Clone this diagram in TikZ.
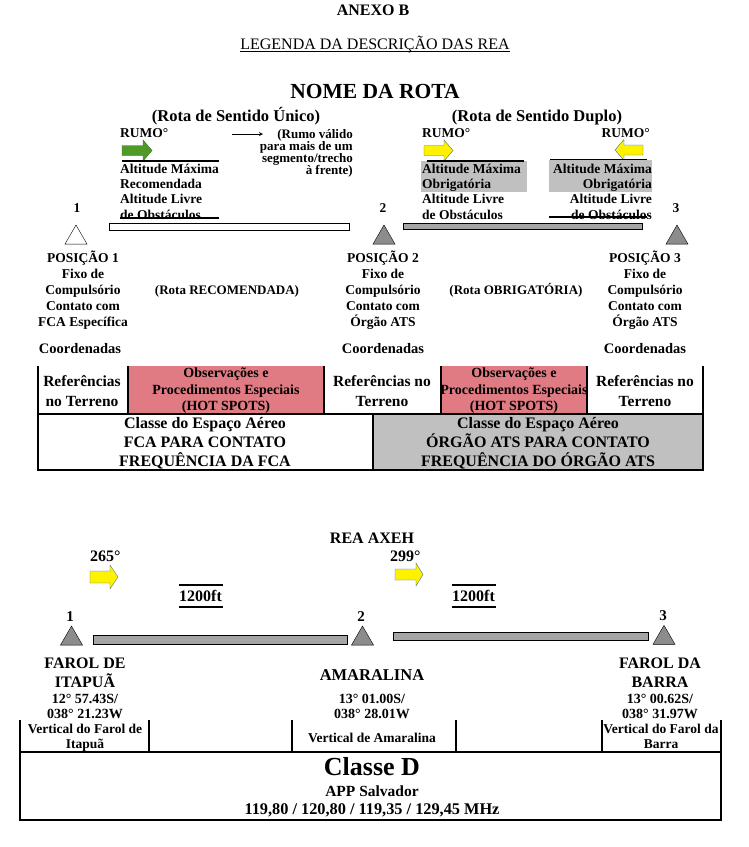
\documentclass[tikz,border=0pt]{standalone}
\usepackage{fontspec}
\setmainfont{Liberation Serif}
\usepackage{xcolor}
\usetikzlibrary{shapes.geometric, arrows}

\definecolor{hotspot}{RGB}{224,122,131}
\definecolor{boxgray}{RGB}{192,192,192}
\definecolor{bargray}{RGB}{165,165,165}
\definecolor{trigray}{RGB}{140,140,140}
\definecolor{rumogreen}{RGB}{80,155,40}
\definecolor{rumoedge}{RGB}{70,110,160}

\newcommand{\setfs}[2]{\fontsize{#1}{#2}\selectfont\bfseries\lineskiplimit=-20pt}

\begin{document}
\begin{tikzpicture}[x=1pt, y=-1pt, every node/.style={inner sep=0pt}]
        % Define styles (coordinates are pixels from the top left corner,
        % multi-line nodes sit on the baseline of their last line)
        \tikzstyle{lbl} = [font=\setfs{13.5}{15.3}]
        \tikzstyle{posbox} = [font=\setfs{13.5}{16}, align=center, anchor=base]
        \tikzstyle{coordlbl} = [font=\setfs{14.5}{17}, anchor=base]
        \tikzstyle{refcell} = [font=\setfs{15.5}{20}, align=center]
        \tikzstyle{hotcell} = [font=\setfs{14}{16.5}, align=center]
        \tikzstyle{classecell} = [font=\setfs{16}{19}, align=center]
        \tikzstyle{fixo} = [regular polygon, regular polygon sides=3, minimum size=25.4pt, draw, fill=trigray]
        \tikzstyle{routebar} = [draw, fill=bargray]
        \tikzstyle{thickrule} = [line width=1.5pt]
        \tikzstyle{tabline} = [line width=1.2pt]
        \tikzstyle{arrow} = [thick,->,>=stealth]
        \tikzstyle{yarrow} = [draw=rumoedge, fill=yellow]

        \useasboundingbox (0,0) rectangle (748,847);

        % Titles
        \node (anexo) [font=\setfs{16}{19}, anchor=base] at (373,15) {ANEXO B};
        \node (legenda) [font=\fontsize{16}{19}\selectfont, anchor=base] at (375,49) {LEGENDA DA DESCRIÇÃO DAS REA};
        \draw ([yshift=-2pt]legenda.base west) -- ([yshift=-2pt]legenda.base east);
        \node (nome) [font=\setfs{21.5}{25}, anchor=base] at (375,98) {NOME DA ROTA};
        \node (unico) [font=\setfs{16.5}{19}, anchor=base] at (236,121) {(Rota de Sentido Único)};
        \node (duplo) [font=\setfs{16.5}{19}, anchor=base] at (537,121) {(Rota de Sentido Duplo)};

        % One way route
        \node (rumoa) [lbl, anchor=base west] at (120,137) {RUMO°};
        \draw [draw=rumogreen!70!black, fill=rumogreen] (122,145.5) -- (143,145.5) -- (143,140) -- (152,150.5) -- (143,161) -- (143,155.5) -- (122,155.5) -- cycle;
        \draw [thickrule] (122,161) -- (219,161);
        \node (alta) [lbl, align=left, anchor=base west] at (120,219) {Altitude Máxima\\Recomendada\\Altitude Livre\\de Obstáculos};
        \draw [thickrule] (120,218) -- (219,218);
        \draw [draw, fill=white] (109,223) rectangle (349,230);
        \coordinate (seta1) at (232,134);
        \coordinate (seta2) at (263,134);
        \draw [arrow] (seta1) -- (seta2);
        \node (valido) [font=\setfs{13}{12}, align=right, anchor=base east] at (353,174) {(Rumo válido\\para mais de um\\segmento/trecho\\à frente)};

        % Two way route
        \node (rumob) [lbl, anchor=base west] at (422,137) {RUMO°};
        \draw [yarrow] (424,145.5) -- (444,145.5) -- (444,140) -- (453,150.5) -- (444,161) -- (444,155.5) -- (424,155.5) -- cycle;
        \fill [boxgray] (421,161) rectangle (527,192);
        \draw [thickrule] (427,161) -- (524,161);
        \node (altb) [lbl, align=left, anchor=base west] at (422,219) {Altitude Máxima\\Obrigatória\\Altitude Livre\\de Obstáculos};
        \draw [routebar] (403,223) rectangle (642,229);
        \draw [thickrule] (425,223.5) -- (521,223.5);

        \node (rumoc) [lbl, anchor=base east] at (650,137) {RUMO°};
        \draw [yarrow] (643,145) -- (624,145) -- (624,139.5) -- (615,150) -- (624,160.5) -- (624,155) -- (643,155) -- cycle;
        \fill [boxgray] (549,160) rectangle (652,192);
        \draw [thickrule] (550,159.5) -- (647,159.5);
        \node (altc) [lbl, align=right, anchor=base east] at (652,219) {Altitude Máxima\\Obrigatória\\Altitude Livre\\de Obstáculos};
        \draw [thickrule] (549,217) -- (647,217);

        % Positions
        \node (n1) [lbl, anchor=base] at (77,212) {1};
        \node (n2) [lbl, anchor=base] at (383,212) {2};
        \node (n3) [lbl, anchor=base] at (676,212) {3};
        \node (tri1) [fixo, fill=white] at (76,237.7) {};
        \node (tri2) [fixo] at (384,237.7) {};
        \node (tri3) [fixo] at (677,237.7) {};

        \node (posicao1) [posbox] at (83,326) {POSIÇÃO 1\\Fixo de\\Compulsório\\Contato com\\FCA Específica};
        \node (posicao2) [posbox] at (383,326) {POSIÇÃO 2\\Fixo de\\Compulsório\\Contato com\\Órgão ATS};
        \node (posicao3) [posbox] at (645,326) {POSIÇÃO 3\\Fixo de\\Compulsório\\Contato com\\Órgão ATS};
        \node (recomendada) [font=\setfs{13}{15}, anchor=base] at (227,294) {(Rota RECOMENDADA)};
        \node (obrigatoria) [font=\setfs{13}{15}, anchor=base] at (516,294) {(Rota OBRIGATÓRIA)};
        \node (coord1) [coordlbl] at (80,353) {Coordenadas};
        \node (coord2) [coordlbl] at (383,353) {Coordenadas};
        \node (coord3) [coordlbl] at (645,353) {Coordenadas};

        % Legend table
        \fill [hotspot] (128,366) rectangle (324,414);
        \fill [hotspot] (441,366) rectangle (587,414);
        \fill [boxgray] (373,414) rectangle (703,470);
        \draw [tabline] (38,366) -- (38,470) -- (703,470) -- (703,366);
        \draw [tabline] (38,414) -- (703,414);
        \foreach \x in {128,324,441,587}
            \draw [tabline] (\x,366) -- (\x,414);
        \draw [tabline] (373,414) -- (373,470);

        \node (ref1) [refcell] at (82,391) {Referências\\no Terreno};
        \node (hot1) [hotcell] at (226,391) {Observações e\\Procedimentos Especiais\\(HOT SPOTS)};
        \node (ref2) [refcell] at (382,391) {Referências no\\Terreno};
        \node (hot2) [hotcell] at (514,391) {Observações e\\Procedimentos Especiais\\(HOT SPOTS)};
        \node (ref3) [refcell] at (645,391) {Referências no\\Terreno};
        \node (fca) [classecell] at (205,443) {Classe do Espaço Aéreo\\FCA PARA CONTATO\\FREQUÊNCIA DA FCA};
        \node (orgao) [classecell] at (538,443) {Classe do Espaço Aéreo\\ÓRGÃO ATS PARA CONTATO\\FREQUÊNCIA DO ÓRGÃO ATS};

        % Example route
        \node (axeh) [font=\setfs{16}{19}, anchor=base] at (372,543) {REA AXEH};
        \node (rumo265) [font=\setfs{16}{19}, anchor=base west] at (90,561) {265°};
        \draw [yarrow] (90,571) -- (110,571) -- (110,565) -- (118,577) -- (110,589) -- (110,583) -- (90,583) -- cycle;
        \node (rumo299) [font=\setfs{16}{19}, anchor=base west] at (390,561) {299°};
        \draw [yarrow] (395,569) -- (416,569) -- (416,563) -- (423,574.5) -- (416,586) -- (416,580) -- (395,580) -- cycle;
        \node (alt1200a) [font=\setfs{16}{19}, anchor=base west] at (179,601) {1200ft};
        \draw [thickrule] (179,585) -- (223,585);
        \draw [thickrule] (179,607) -- (223,607);
        \node (alt1200b) [font=\setfs{16}{19}, anchor=base west] at (452,601) {1200ft};
        \draw [thickrule] (452,585) -- (496,585);
        \draw [thickrule] (452,607) -- (496,607);

        \node (m1) [font=\setfs{15}{18}, anchor=base] at (70,621) {1};
        \node (m2) [font=\setfs{15}{18}, anchor=base] at (361,621) {2};
        \node (m3) [font=\setfs{15}{18}, anchor=base] at (663,620) {3};
        \node (itapua) [fixo] at (71.5,638.7) {};
        \node (amaralina) [fixo] at (362.5,638.7) {};
        \node (barra) [fixo] at (664,638) {};
        \draw [routebar] (93,635) rectangle (347,644);
        \draw [routebar] (393,632) rectangle (648,640);

        \node (nitapua) [font=\setfs{16}{19}, align=center, anchor=base] at (85,687) {FAROL DE\\ITAPUÃ};
        \node (namaralina) [font=\setfs{16.5}{19}, anchor=base] at (372,680) {AMARALINA};
        \node (nbarra) [font=\setfs{16}{19}, align=center, anchor=base] at (660,687) {FAROL DA\\BARRA};
        \node (citapua) [font=\setfs{14}{15}, align=center, anchor=base] at (85,718) {12° 57.43S/\\038° 21.23W};
        \node (camaralina) [font=\setfs{14}{15}, align=center, anchor=base] at (372,718) {13° 01.00S/\\038° 28.01W};
        \node (cbarra) [font=\setfs{14}{15}, align=center, anchor=base] at (660,718) {13° 00.62S/\\038° 31.97W};

        % Route table
        \draw [tabline] (20,720) -- (20,820) -- (721,820) -- (721,720);
        \draw [tabline] (20,752) -- (721,752);
        \foreach \x in {149,292,456,602}
            \draw [tabline] (\x,720) -- (\x,752);
        \node (vitapua) [font=\setfs{13.5}{15}, align=center, anchor=base] at (85,748) {Vertical do Farol de\\Itapuã};
        \node (vamaralina) [font=\setfs{13.5}{15}, anchor=base] at (372,742) {Vertical de Amaralina};
        \node (vbarra) [font=\setfs{13.5}{15}, align=center, anchor=base] at (661,748) {Vertical do Farol da\\Barra};
        \node (classed) [font=\setfs{26}{30}, anchor=base] at (372,775) {Classe D};
        \node (app) [font=\setfs{15.5}{18}, anchor=base] at (372,796) {APP Salvador};
        \node (freq) [font=\setfs{16.3}{19}, anchor=base] at (372,814) {119,80 / 120,80 / 119,35 / 129,45 MHz};
\end{tikzpicture}
\end{document}
